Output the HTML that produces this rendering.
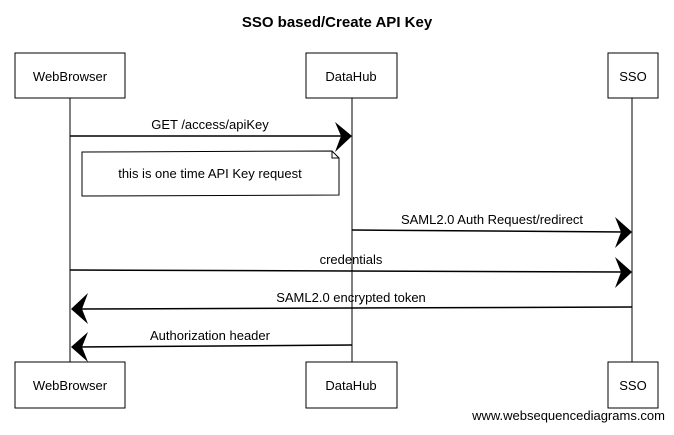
<!DOCTYPE html>
<html><head><style>
body{margin:0;background:#fff;}
svg text{font-family:"Liberation Sans",sans-serif;fill:#000;}
</style></head><body>
<svg width="674" height="430" viewBox="0 0 674 430" xmlns="http://www.w3.org/2000/svg">
<rect width="674" height="430" fill="#fff"/>
<text x="337" y="27" text-anchor="middle" font-size="15" font-weight="bold">SSO based/Create API Key</text>
<g fill="none" stroke="#000" stroke-width="1">
<line x1="70" y1="98" x2="70" y2="362"/>
<line x1="352" y1="98" x2="352" y2="362"/>
<line x1="632" y1="98" x2="632" y2="362"/>
<rect x="15" y="53" width="110" height="45" fill="#fff"/>
<rect x="306" y="53" width="91" height="45" fill="#fff"/>
<rect x="608" y="53" width="50" height="45" fill="#fff"/>
<rect x="15" y="362" width="110" height="46" fill="#fff"/>
<rect x="306" y="362" width="91" height="46" fill="#fff"/>
<rect x="608" y="362" width="50" height="46" fill="#fff"/>
<path d="M82 152 L332 151 L339 158 L339 195 L82 196 Z" fill="#fff"/>
<path d="M332 151 L332 158 L339 158"/>
</g>
<g stroke="#000" stroke-width="1.5" fill="none">
<line x1="70" y1="136" x2="345" y2="136"/>
<line x1="352" y1="230" x2="625" y2="232"/>
<line x1="70" y1="270" x2="625" y2="272"/>
<line x1="632" y1="307" x2="77" y2="309"/>
<line x1="352" y1="345" x2="77" y2="347"/>
</g>
<g fill="#000">
<path d="M335 122 L352 136 L335 152 L341 136 Z"/>
<path d="M615 217 L632 232 L615 248 L621 232 Z"/>
<path d="M615 257 L632 272 L615 288 L621 272 Z"/>
<path d="M88 293 L71 309 L88 324 L82 309 Z"/>
<path d="M88 332 L71 347 L88 362 L82 347 Z"/>
</g>
<g font-size="13">
<text x="70" y="81" text-anchor="middle">WebBrowser</text>
<text x="351" y="81" text-anchor="middle">DataHub</text>
<text x="633" y="81" text-anchor="middle">SSO</text>
<text x="70" y="390" text-anchor="middle">WebBrowser</text>
<text x="351" y="390" text-anchor="middle">DataHub</text>
<text x="633" y="390" text-anchor="middle">SSO</text>
<text x="210" y="129" text-anchor="middle">GET /access/apiKey</text>
<text x="210" y="178" text-anchor="middle">this is one time API Key request</text>
<text x="492" y="224" text-anchor="middle">SAML2.0 Auth Request/redirect</text>
<text x="351" y="264" text-anchor="middle">credentials</text>
<text x="351" y="302" text-anchor="middle">SAML2.0 encrypted token</text>
<text x="210" y="340" text-anchor="middle">Authorization header</text>
</g>
<text x="665" y="420" text-anchor="end" font-size="13">www.websequencediagrams.com</text>
</svg>
</body></html>
